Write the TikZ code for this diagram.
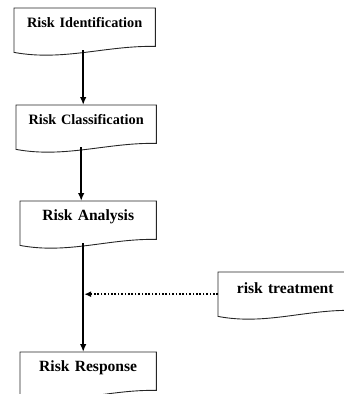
\documentclass[tikz,border=0pt]{standalone}
\usepackage{fontspec}
\setmainfont{Liberation Serif}
\usetikzlibrary{arrows.meta,calc}

\tikzset{
  docbox/.style={anchor=north west, inner sep=0pt, align=center,
    text width=#1, text height=19pt, text depth=25pt},
  docline/.style={draw=black!85, line width=0.9pt},
  flow/.style={-{Latex[length=8pt,width=6.5pt]}, line width=1.6pt, black},
  feed/.style={-{Latex[length=7pt,width=6pt]}, line width=1.6pt, black,
    dash pattern=on 1.6pt off 1.8pt},
  small/.style={font=\bfseries\fontsize{14.3}{16}\selectfont},
  big/.style={font=\bfseries\fontsize{15.6}{18}\selectfont}
}

\begin{document}
\begin{tikzpicture}[x=1pt, y=-1pt]
\useasboundingbox (0,0) rectangle (344,394);

% the five document boxes
\node[docbox=141pt, small] (ident) at (14,8) {Risk Identification};
\node[docbox=140pt, small] (class) at (16,105) {Risk Classification};
\node[docbox=136pt, big] (anal) at (20,201) {Risk Analysis};
\node[docbox=136pt, big] (resp) at (20,352) {Risk Response};
\node[docbox=134pt, big, text height=21pt, text depth=23pt] (treat) at (218,272) {risk treatment};

% outlines with the wavy bottom
\foreach \n in {ident, class, anal, resp, treat}
  \draw[docline] (\n.north west) -- (\n.north east) -- ($(\n.south east)+(0,6pt)$)
    .. controls ($(\n.south west)!0.65!(\n.south east)+(0,7pt)$)
    and ($(\n.south west)!0.35!(\n.south east)+(0,-9pt)$) .. (\n.south west) -- cycle;

% connectors
\draw[flow] ([xshift=-1.5pt,yshift=2pt]ident.south) -- ([xshift=-1.5pt]ident.south |- class.north);
\draw[flow] ([xshift=-5pt,yshift=2pt]class.south) -- ([xshift=-5pt]class.south |- anal.north);
\draw[flow] ([xshift=-5pt,yshift=2pt]anal.south) coordinate (a3) -- (a3 |- resp.north);
\draw[feed] (treat.west) -- ([xshift=1pt]a3 |- treat.west);
\end{tikzpicture}
\end{document}
